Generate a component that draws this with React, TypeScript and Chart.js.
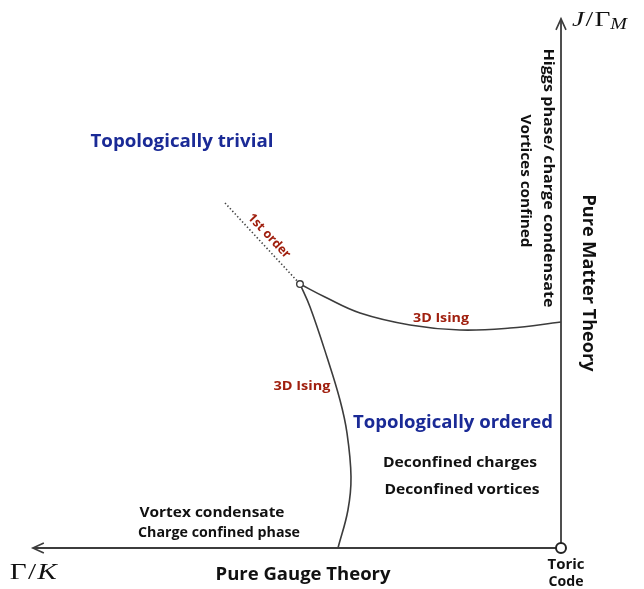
import React, { useEffect, useRef } from "react";
import { Chart, registerables } from "chart.js";
Chart.register(...registerables);

// Phase diagram data (x = Γ/K, y = J/Γ_M, arbitrary units)
const AXIS_X_END = 5.03;
const AXIS_Y_END = 5.04;
const ORIGIN_X = [0];
const ORIGIN_Y = [0];
const CRITICAL_X = [2.486];
const CRITICAL_Y = [2.514];
const ISING_UPPER_X = [2.486, 2.248, 1.914, 1.438, 0.962, 0.486, 0];
const ISING_UPPER_Y = [2.514, 2.39, 2.238, 2.124, 2.076, 2.095, 2.152];
const ISING_LOWER_X = [2.486, 2.39, 2.229, 2.105, 2.038, 2.0, 2.029, 2.124];
const ISING_LOWER_Y = [2.514, 2.295, 1.819, 1.41, 1.095, 0.676, 0.362, 0];
const FIRST_ORDER_X = [3.2, 2.486];
const FIRST_ORDER_Y = [3.286, 2.514];

const LABEL_TEXTS = [
  "Topologically trivial",
  "1st order",
  "3D Ising",
  "3D Ising",
  "Topologically ordered",
  "Deconfined charges",
  "Deconfined vortices",
  "Vortex condensate",
  "Charge confined phase",
  "Pure Gauge Theory",
  "Toric",
  "Code",
  "Pure Matter Theory",
  "Higgs phase/ charge condensate",
  "Vortices confined",
];

const BLUE = "#1a2a96";
const RED = "#a0200f";
const BLACK = "#111111";
const LINE = "#3c3c3c";

// placement/style for each label (data coords, rotation, font size, target width px, color)
const LABEL_LAYOUT = [
  { x: 3.61, y: 3.867, rot: 0, s: 17.5, w: 183, c: BLUE },
  { x: 2.781, y: 2.971, rot: 46.8, s: 12.5, w: 56, c: RED },
  { x: 1.143, y: 2.19, rot: 0, s: 13, w: 56, c: RED },
  { x: 2.467, y: 1.543, rot: 0, s: 13, w: 57, c: RED },
  { x: 1.029, y: 1.19, rot: 0, s: 17.5, w: 200, c: BLUE },
  { x: 0.962, y: 0.81, rot: 0, s: 15, w: 154, c: BLACK },
  { x: 0.943, y: 0.552, rot: 0, s: 15, w: 155, c: BLACK },
  { x: 3.324, y: 0.333, rot: 0, s: 15, w: 145, c: BLACK },
  { x: 3.257, y: 0.143, rot: 0, s: 15, w: 162, c: BLACK },
  { x: 2.457, y: -0.257, rot: 0, s: 18.5, w: 175, c: BLACK },
  { x: -0.048, y: -0.162, rot: 0, s: 15, w: 37, c: BLACK },
  { x: -0.048, y: -0.324, rot: 0, s: 15, w: 35, c: BLACK },
  { x: -0.257, y: 2.524, rot: 90, s: 18.5, w: 177, c: BLACK },
  { x: 0.124, y: 3.524, rot: 90, s: 15, w: 259, c: BLACK },
  { x: 0.343, y: 3.495, rot: 90, s: 15, w: 133, c: BLACK },
];

const zip = (xs: number[], ys: number[]) => xs.map((x, i) => ({ x, y: ys[i] }));

const overlayPlugin = {
  id: "overlay",
  afterDatasetsDraw(chart: any) {
    const { ctx } = chart;
    const sx = chart.scales.x;
    const sy = chart.scales.y;
    ctx.save();
    // arrowheads
    ctx.strokeStyle = LINE;
    ctx.lineWidth = 1.6;
    const hx = sx.getPixelForValue(AXIS_X_END);
    const hy = sy.getPixelForValue(0);
    ctx.beginPath();
    ctx.moveTo(hx + 11, hy - 5);
    ctx.lineTo(hx, hy);
    ctx.lineTo(hx + 11, hy + 5);
    ctx.stroke();
    const vx = sx.getPixelForValue(0);
    const vy = sy.getPixelForValue(AXIS_Y_END);
    ctx.beginPath();
    ctx.moveTo(vx - 5, vy + 11);
    ctx.lineTo(vx, vy);
    ctx.lineTo(vx + 5, vy + 11);
    ctx.stroke();

    // text labels
    LABEL_TEXTS.forEach((t, i) => {
      const l = LABEL_LAYOUT[i];
      const px = sx.getPixelForValue(l.x);
      const py = sy.getPixelForValue(l.y);
      ctx.save();
      ctx.translate(px, py);
      ctx.rotate((l.rot * Math.PI) / 180);
      ctx.font = `bold ${l.s}px "Open Sans"`;
      const mw = ctx.measureText(t).width;
      ctx.scale(l.w / mw, 1);
      ctx.fillStyle = l.c;
      ctx.textAlign = "center";
      ctx.textBaseline = "middle";
      ctx.fillText(t, 0, 0);
      ctx.restore();
    });

    // math axis labels
    ctx.fillStyle = "#111";
    ctx.textBaseline = "alphabetic";
    ctx.textAlign = "left";
    const drawSeq = (x0: number, base: number, parts: any[], target: number) => {
      let total = 0;
      for (const p of parts) {
        ctx.font = `${p.it ? "italic " : ""}${p.s}px "Liberation Serif"`;
        total += ctx.measureText(p.t).width + (p.gap || 0);
      }
      ctx.save();
      ctx.translate(x0, base);
      ctx.scale(target / total, 1);
      let x = 0;
      for (const p of parts) {
        ctx.font = `${p.it ? "italic " : ""}${p.s}px "Liberation Serif"`;
        ctx.fillText(p.t, x, p.dy || 0);
        x += ctx.measureText(p.t).width + (p.gap || 0);
      }
      ctx.restore();
    };
    drawSeq(
      hx - 23,
      hy + 31,
      [
        { t: "Γ", s: 24, gap: 1 },
        { t: "/", s: 24, gap: 1 },
        { t: "K", s: 24, it: true },
      ],
      47
    );
    drawSeq(
      vx + 11,
      vy + 7,
      [
        { t: "J", s: 22, it: true, gap: 1 },
        { t: "/", s: 22, gap: 1 },
        { t: "Γ", s: 22 },
        { t: "M", s: 16, it: true, dy: 3 },
      ],
      55
    );
    ctx.restore();
  },
};

export default function App() {
  const ref = useRef<HTMLCanvasElement | null>(null);
  useEffect(() => {
    if (!ref.current) return;
    const chart = new Chart(ref.current, {
      type: "scatter",
      data: {
        datasets: [
          {
            label: "critical point",
            data: zip(CRITICAL_X, CRITICAL_Y),
            pointRadius: 3.3,
            pointBackgroundColor: "#fff",
            pointBorderColor: LINE,
            pointBorderWidth: 1.4,
            showLine: false,
            order: 0,
          },
          {
            label: "toric code",
            data: zip(ORIGIN_X, ORIGIN_Y),
            pointRadius: 5,
            pointBackgroundColor: "#fff",
            pointBorderColor: "#222",
            pointBorderWidth: 2,
            showLine: false,
            order: 0,
          },
          {
            label: "3D Ising upper",
            data: zip(ISING_UPPER_X, ISING_UPPER_Y),
            showLine: true,
            tension: 0.4,
            borderColor: LINE,
            borderWidth: 1.6,
            pointRadius: 0,
            order: 1,
          },
          {
            label: "3D Ising lower",
            data: zip(ISING_LOWER_X, ISING_LOWER_Y),
            showLine: true,
            tension: 0.4,
            borderColor: LINE,
            borderWidth: 1.6,
            pointRadius: 0,
            order: 1,
          },
          {
            label: "1st order",
            data: zip(FIRST_ORDER_X, FIRST_ORDER_Y),
            showLine: true,
            borderColor: "#444",
            borderWidth: 1.6,
            borderDash: [1.4, 2.2],
            pointRadius: 0,
            order: 1,
          },
          {
            label: "x axis",
            data: [
              { x: 0, y: 0 },
              { x: AXIS_X_END, y: 0 },
            ],
            showLine: true,
            borderColor: LINE,
            borderWidth: 1.8,
            pointRadius: 0,
            order: 2,
          },
          {
            label: "y axis",
            data: [
              { x: 0, y: 0 },
              { x: 0, y: AXIS_Y_END },
            ],
            showLine: true,
            borderColor: LINE,
            borderWidth: 1.8,
            pointRadius: 0,
            order: 2,
          },
        ],
      },
      options: {
        animation: false,
        responsive: false,
        layout: { padding: 0, autoPadding: false },
        plugins: { legend: { display: false }, tooltip: { enabled: false } },
        scales: {
          x: { type: "linear", reverse: true, min: -0.7143, max: 5.2667, display: false },
          y: { type: "linear", min: -0.3905, max: 5.1429, display: false },
        },
      },
      plugins: [overlayPlugin],
    } as any);
    return () => chart.destroy();
  }, []);
  return (
    <div style={{ width: 628, height: 581 }}>
      <canvas ref={ref} width={628} height={581} style={{ display: "block" }} />
    </div>
  );
}
